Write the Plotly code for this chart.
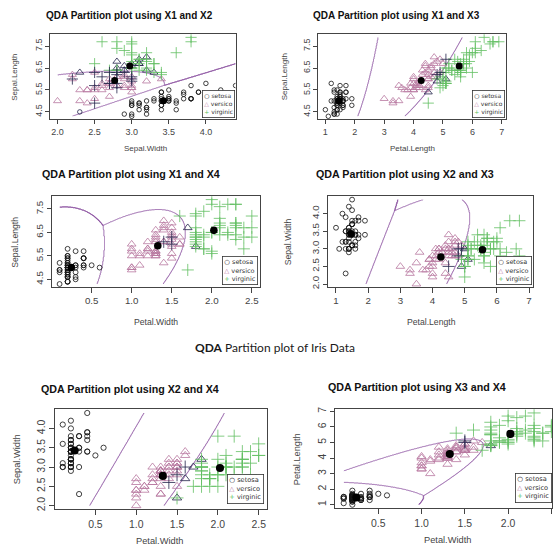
import numpy as np
import plotly.graph_objects as go

# ---------------- data (Edgar Anderson's iris, as plotted) ----------------
sepal_length = [5.1,4.9,4.7,4.6,5.0,5.4,4.6,5.0,4.4,4.9,5.4,4.8,4.8,4.3,5.8,5.7,5.4,5.1,5.7,5.1,5.4,5.1,4.6,5.1,4.8,5.0,5.0,5.2,5.2,4.7,4.8,5.4,5.2,5.5,4.9,5.0,5.5,4.9,4.4,5.1,5.0,4.5,4.4,5.0,5.1,4.8,5.1,4.6,5.3,5.0,
                7.0,6.4,6.9,5.5,6.5,5.7,6.3,4.9,6.6,5.2,5.0,5.9,6.0,6.1,5.6,6.7,5.6,5.8,6.2,5.6,5.9,6.1,6.3,6.1,6.4,6.6,6.8,6.7,6.0,5.7,5.5,5.5,5.8,6.0,5.4,6.0,6.7,6.3,5.6,5.5,5.5,6.1,5.8,5.0,5.6,5.7,5.7,6.2,5.1,5.7,
                6.3,5.8,7.1,6.3,6.5,7.6,4.9,7.3,6.7,7.2,6.5,6.4,6.8,5.7,5.8,6.4,6.5,7.7,7.7,6.0,6.9,5.6,7.7,6.3,6.7,7.2,6.2,6.1,6.4,7.2,7.4,7.9,6.4,6.3,6.1,7.7,6.3,6.4,6.0,6.9,6.7,6.9,5.8,6.8,6.7,6.7,6.3,6.5,6.2,5.9]
sepal_width = [3.5,3.0,3.2,3.1,3.6,3.9,3.4,3.4,2.9,3.1,3.7,3.4,3.0,3.0,4.0,4.4,3.9,3.5,3.8,3.8,3.4,3.7,3.6,3.3,3.4,3.0,3.4,3.5,3.4,3.2,3.1,3.4,4.1,4.2,3.1,3.2,3.5,3.6,3.0,3.4,3.5,2.3,3.2,3.5,3.8,3.0,3.8,3.2,3.7,3.3,
               3.2,3.2,3.1,2.3,2.8,2.8,3.3,2.4,2.9,2.7,2.0,3.0,2.2,2.9,2.9,3.1,3.0,2.7,2.2,2.5,3.2,2.8,2.5,2.8,2.9,3.0,2.8,3.0,2.9,2.6,2.4,2.4,2.7,2.7,3.0,3.4,3.1,2.3,3.0,2.5,2.6,3.0,2.6,2.3,2.7,3.0,2.9,2.9,2.5,2.8,
               3.3,2.7,3.0,2.9,3.0,3.0,2.5,2.9,2.5,3.6,3.2,2.7,3.0,2.5,2.8,3.2,3.0,3.8,2.6,2.2,3.2,2.8,2.8,2.7,3.3,3.2,2.8,3.0,2.8,3.0,2.8,3.8,2.8,2.8,2.6,3.0,3.4,3.1,3.0,3.1,3.1,3.1,2.7,3.2,3.3,3.0,2.5,3.0,3.4,3.0]
petal_length = [1.4,1.4,1.3,1.5,1.4,1.7,1.4,1.5,1.4,1.5,1.5,1.6,1.4,1.1,1.2,1.5,1.3,1.4,1.7,1.5,1.7,1.5,1.0,1.7,1.9,1.6,1.6,1.5,1.4,1.6,1.6,1.5,1.5,1.4,1.5,1.2,1.3,1.4,1.3,1.5,1.3,1.3,1.3,1.6,1.9,1.4,1.6,1.4,1.5,1.4,
                4.7,4.5,4.9,4.0,4.6,4.5,4.7,3.3,4.6,3.9,3.5,4.2,4.0,4.7,3.6,4.4,4.5,4.1,4.5,3.9,4.8,4.0,4.9,4.7,4.3,4.4,4.8,5.0,4.5,3.5,3.8,3.7,3.9,5.1,4.5,4.5,4.7,4.4,4.1,4.0,4.4,4.6,4.0,3.3,4.2,4.2,4.2,4.3,3.0,4.1,
                6.0,5.1,5.9,5.6,5.8,6.6,4.5,6.3,5.8,6.1,5.1,5.3,5.5,5.0,5.1,5.3,5.5,6.7,6.9,5.0,5.7,4.9,6.7,4.9,5.7,6.0,4.8,4.9,5.6,5.8,6.1,6.4,5.6,5.1,5.6,6.1,5.6,5.5,4.8,5.4,5.6,5.1,5.1,5.9,5.7,5.2,5.0,5.2,5.4,5.1]
petal_width = [0.2,0.2,0.2,0.2,0.2,0.4,0.3,0.2,0.2,0.1,0.2,0.2,0.1,0.1,0.2,0.4,0.4,0.3,0.3,0.3,0.2,0.4,0.2,0.5,0.2,0.2,0.4,0.2,0.2,0.2,0.2,0.4,0.1,0.2,0.2,0.2,0.2,0.1,0.2,0.2,0.3,0.3,0.2,0.6,0.4,0.3,0.2,0.2,0.2,0.2,
               1.4,1.5,1.5,1.3,1.5,1.3,1.6,1.0,1.3,1.4,1.0,1.5,1.0,1.4,1.3,1.4,1.5,1.0,1.5,1.1,1.8,1.3,1.5,1.2,1.3,1.4,1.4,1.7,1.5,1.0,1.1,1.0,1.2,1.6,1.5,1.6,1.5,1.3,1.3,1.3,1.2,1.4,1.2,1.0,1.3,1.2,1.3,1.3,1.1,1.3,
               2.5,1.9,2.1,1.8,2.2,2.1,1.7,1.8,1.8,2.5,2.0,1.9,2.1,2.0,2.4,2.3,1.8,2.2,2.3,1.5,2.3,2.0,2.0,1.8,2.1,1.8,1.8,1.8,2.1,1.6,1.9,2.0,2.2,1.5,1.4,2.3,2.4,1.8,1.8,2.1,2.4,2.3,1.9,2.3,2.5,2.3,1.9,2.0,2.3,1.8]
species = ["setosa"] * 50 + ["versicolor"] * 50 + ["virginica"] * 50
class_names = ["setosa", "versicolor", "virginica"]
legend_labels = ["setosa", "versico", "virginic"]

panel_titles = ["QDA Partition plot using X1 and X2", "QDA Partition plot using X1 and X3",
                "QDA Partition plot using X1 and X4", "QDA Partition plot using X2 and X3",
                "QDA Partition plot using X2 and X4", "QDA Partition plot using X3 and X4"]
panel_x_vars = ["Sepal.Width", "Petal.Length", "Petal.Width", "Petal.Length", "Petal.Width", "Petal.Width"]
panel_y_vars = ["Sepal.Length", "Sepal.Length", "Sepal.Length", "Sepal.Width", "Sepal.Width", "Petal.Length"]
tick_sets = {
    "Sepal.Length": [4.5, 5.5, 6.5, 7.5],
    "Sepal.Width": [2.0, 2.5, 3.0, 3.5, 4.0],
    "Petal.Length": [1, 2, 3, 4, 5, 6, 7],
    "Petal.Width": [0.5, 1.0, 1.5, 2.0, 2.5],
}
tick_fmt = {"Sepal.Length": "{:.1f}", "Sepal.Width": "{:.1f}", "Petal.Length": "{:d}", "Petal.Width": "{:.1f}"}
caption = "<b>QDA</b> Partition plot of Iris Data"

# ---------------- layout geometry (pixels) ----------------
W, H = 553, 550
# plot boxes: (left, right, top, bottom)
boxes = [(50.5, 236, 31.5, 117.5), (319, 506.7, 31.5, 117.5),
         (52, 260, 195, 287), (329, 534.4, 195, 287),
         (55, 267, 410, 511), (336, 553, 410, 510)]
x_range_override = {0: 4.40, 5: 2.507}
scale = [1.0, 1.0, 1.08, 1.08, 1.16, 1.16]
title_pos = [(130, 13), (397, 13), (131, 173), (406, 173), (130, 390), (418, 388)]
xtitle_pos = [(146, 147), (413, 147), (156, 322), (432, 322), (160, 543), (448, 542)]
ytitle_x = [15, 285, 15, 288, 17, 297]
legend_anchor = [(235, 116), (505.5, 116), (258, 285), (532.5, 285), (264, 506), (552.5, 505)]

COL_SET = "#111111"
COL_VER = "#b8779f"
COL_VIR = "#62bf62"
COL_WRONG = "#23234a"
COL_LINE = "#8a4e9f"
class_cols = [COL_SET, COL_VER, COL_VIR]
class_syms = ["circle-open", "triangle-up-open", "cross-thin-open"]
class_sizes = [4.5, 7, 8]

data = {"Sepal.Length": np.array(sepal_length), "Sepal.Width": np.array(sepal_width),
        "Petal.Length": np.array(petal_length), "Petal.Width": np.array(petal_width)}
labels = np.array([class_names.index(s) for s in species])


def qda_fit(X, y):
    fits = []
    for k in range(3):
        Xk = X[y == k]
        m = Xk.mean(axis=0)
        S = np.cov(Xk.T)
        fits.append((m, np.linalg.inv(S), np.log(np.linalg.det(S))))
    return fits


def qda_predict(P, fits):
    scores = []
    for m, Si, ld in fits:
        d = P - m
        q = np.einsum("ni,ij,nj->n", d, Si, d)
        scores.append(-0.5 * ld - 0.5 * q)
    return np.argmax(np.vstack(scores), axis=0)


fig = go.Figure()
annotations = []

for i in range(6):
    s = scale[i]
    xv, yv = panel_x_vars[i], panel_y_vars[i]
    xd, yd = data[xv], data[yv]
    X = np.column_stack([xd, yd])
    fits = qda_fit(X, labels)
    pred = qda_predict(X, fits)
    ax = "" if i == 0 else str(i + 1)
    xa, ya = "x" + ax, "y" + ax

    # partition boundaries on a grid spanning the data range
    gx = np.linspace(xd.min(), xd.max(), 320)
    gy = np.linspace(yd.min(), yd.max(), 320)
    GX, GY = np.meshgrid(gx, gy)
    gp = qda_predict(np.column_stack([GX.ravel(), GY.ravel()]), fits).reshape(GX.shape)
    fig.add_trace(go.Contour(x=gx, y=gy, z=gp.astype(float), xaxis=xa, yaxis=ya,
                             autocontour=False, contours=dict(start=0.5, end=1.5, size=1, coloring="lines"),
                             colorscale=[[0, COL_LINE], [1, COL_LINE]], line=dict(width=0.9),
                             showscale=False, hoverinfo="skip", showlegend=False))

    for k in range(3):
        ok = (labels == k) & (pred == labels)
        bad = (labels == k) & (pred != labels)
        for mask, col in ((ok, class_cols[k]), (bad, COL_WRONG)):
            if mask.sum() == 0:
                continue
            fig.add_trace(go.Scatter(x=xd[mask], y=yd[mask], mode="markers", xaxis=xa, yaxis=ya,
                                     marker=dict(symbol=class_syms[k], size=class_sizes[k] * s, color=col,
                                                 line=dict(width=0.8, color=col)),
                                     showlegend=False, hoverinfo="skip"))
    # class means
    mx = [xd[labels == k].mean() for k in range(3)]
    my = [yd[labels == k].mean() for k in range(3)]
    fig.add_trace(go.Scatter(x=mx, y=my, mode="markers", xaxis=xa, yaxis=ya,
                             marker=dict(symbol="circle", size=7 * s, color="black"),
                             showlegend=False, hoverinfo="skip"))

    L, R, T, B = boxes[i]
    span_x = xd.max() - xd.min()
    span_y = yd.max() - yd.min()
    xr = [xd.min() - 0.04 * span_x, xd.max() + 0.04 * span_x]
    if i in x_range_override:
        xr[1] = x_range_override[i]
    yr = [yd.min() - 0.04 * span_y, yd.max() + 0.04 * span_y]
    xt, yt = tick_sets[xv], tick_sets[yv]
    axis_common = dict(showline=True, mirror=True, linecolor="#444", linewidth=1, ticks="outside",
                       ticklen=4 * s, tickcolor="#444", tickwidth=1, showgrid=False, zeroline=False,
                       tickfont=dict(family="Liberation Sans", size=9 * s, color="#444"))
    fig.update_layout(**{
        "xaxis" + ax: dict(domain=[L / W, min(R / W, 1.0)], range=xr, anchor=ya,
                           tickvals=xt, ticktext=[tick_fmt[xv].format(v) for v in xt], **axis_common),
        "yaxis" + ax: dict(domain=[1 - B / H, 1 - T / H], range=yr, anchor=xa, tickangle=-90,
                           tickvals=yt, ticktext=[tick_fmt[yv].format(v) for v in yt], **axis_common),
    })

    # title
    tx, ty = title_pos[i]
    annotations.append(dict(text="<b>" + panel_titles[i] + "</b>", x=tx / W, y=1 - ty / H, xref="paper",
                            yref="paper", showarrow=False, xanchor="center", yanchor="middle",
                            font=dict(family="Liberation Sans", size=10 * min(s, 1.07), color="#111")))
    # axis titles
    xtx, xty = xtitle_pos[i]
    annotations.append(dict(text=xv, x=xtx / W, y=1 - xty / H, xref="paper",
                            yref="paper", showarrow=False, xanchor="center", yanchor="middle",
                            font=dict(family="Liberation Sans", size=8 * s, color="#444")))
    annotations.append(dict(text=yv, x=ytitle_x[i] / W, y=1 - (T + B) / 2 / H, xref="paper", yref="paper",
                            showarrow=False, xanchor="center", yanchor="middle", textangle=-90,
                            font=dict(family="Liberation Sans", size=8 * s, color="#444")))
    # legend box
    leg = ("<span style='color:%s'>○</span> %s<br><span style='color:%s'>△</span> %s<br>"
           "<span style='color:%s'>+</span> %s") % (COL_SET, legend_labels[0], COL_VER, legend_labels[1],
                                                     COL_VIR, legend_labels[2])
    lx, ly = legend_anchor[i]
    annotations.append(dict(text=leg, x=lx / W, y=1 - ly / H, xref="paper", yref="paper",
                            showarrow=False, xanchor="right", yanchor="bottom", align="left",
                            bgcolor="white", bordercolor="#333", borderwidth=0.8, borderpad=1.5,
                            font=dict(family="DejaVu Sans", size=6 * min(s, 1.1), color="#333")))

annotations.append(dict(text=caption, x=275.5 / W, y=1 - 348 / H, xref="paper", yref="paper",
                        showarrow=False, xanchor="center", yanchor="middle",
                        font=dict(family="Lato", size=12, color="#1a1a1a")))

fig.update_layout(width=W, height=H, margin=dict(l=0, r=0, t=0, b=0), paper_bgcolor="white",
                  plot_bgcolor="white", showlegend=False, annotations=annotations)
fig.write_html("out.html", config={"displayModeBar": False},
               post_script="document.body.style.margin='0';document.body.style.padding='0';"
                           "document.body.style.overflow='hidden';")
